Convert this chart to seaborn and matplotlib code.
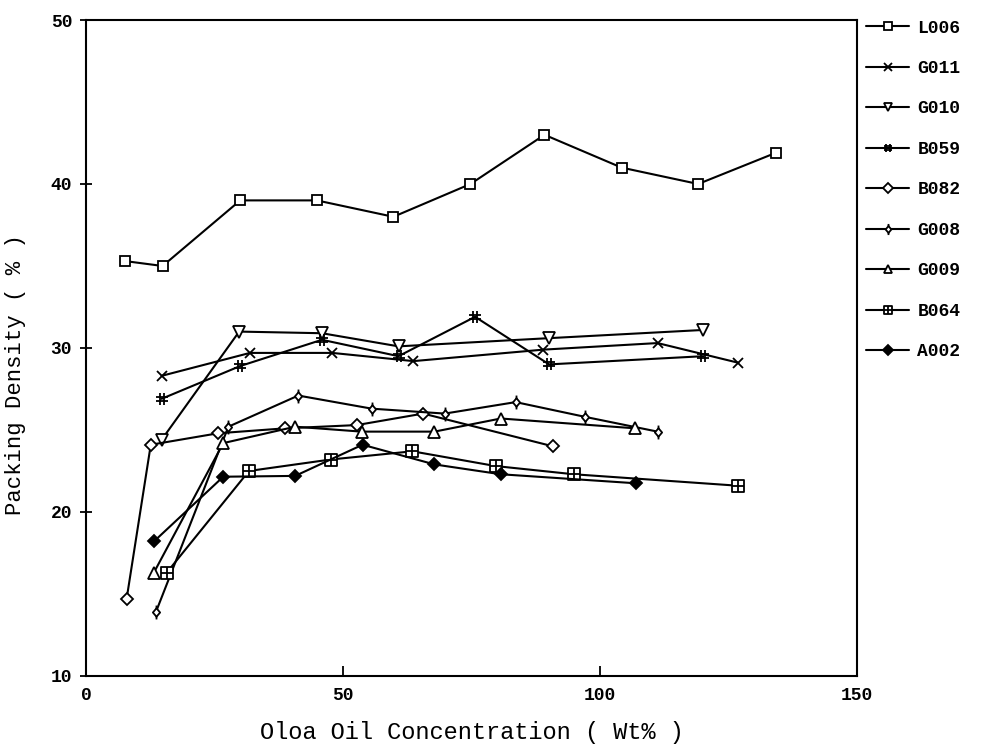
import numpy as np
import pandas as pd
import matplotlib
matplotlib.use("Agg")
import matplotlib.pyplot as plt
from matplotlib.path import Path
import seaborn as sns

# Oloa oil concentration (wt%) and packing density (%) for each sample
L006_x = [7.6, 14.9, 30.0, 44.9, 59.8, 74.8, 89.2, 104.2, 119.1, 134.2]
L006_y = [35.3, 35.0, 39.0, 39.0, 38.0, 40.0, 43.0, 41.0, 40.0, 41.9]

G011_x = [14.7, 31.9, 47.9, 63.7, 89.0, 111.2, 126.9]
G011_y = [28.3, 29.7, 29.7, 29.2, 29.9, 30.3, 29.1]

G010_x = [14.7, 29.8, 45.9, 60.8, 90.1, 120.1]
G010_y = [24.4, 31.0, 30.9, 30.1, 30.6, 31.1]

B059_x = [14.7, 30.0, 45.9, 60.8, 75.7, 90.1, 120.1]
B059_y = [26.9, 28.9, 30.5, 29.5, 31.9, 29.0, 29.5]

B082_x = [7.9, 12.6, 25.7, 38.7, 52.7, 65.6, 90.9]
B082_y = [14.7, 24.1, 24.8, 25.1, 25.3, 26.0, 24.0]

G008_x = [13.6, 27.7, 41.3, 55.6, 69.8, 83.6, 97.1, 111.2]
G008_y = [13.9, 25.2, 27.1, 26.3, 26.0, 26.7, 25.8, 24.9]

G009_x = [13.2, 26.7, 40.7, 53.6, 67.8, 80.7, 106.9]
G009_y = [16.3, 24.2, 25.2, 24.9, 24.9, 25.7, 25.1]

B064_x = [15.7, 31.7, 47.6, 63.5, 79.7, 94.9, 126.9]
B064_y = [16.3, 22.5, 23.2, 23.7, 22.8, 22.3, 21.6]

A002_x = [13.2, 26.7, 40.7, 53.8, 67.8, 80.7, 107.0]
A002_y = [18.2, 22.15, 22.2, 24.1, 22.9, 22.3, 21.75]

samples = ["L006", "G011", "G010", "B059", "B082", "G008", "G009", "B064", "A002"]
series = {
    "L006": (L006_x, L006_y), "G011": (G011_x, G011_y), "G010": (G010_x, G010_y),
    "B059": (B059_x, B059_y), "B082": (B082_x, B082_y), "G008": (G008_x, G008_y),
    "G009": (G009_x, G009_y), "B064": (B064_x, B064_y), "A002": (A002_x, A002_y),
}

x_ticks = [0, 50, 100, 150]
y_ticks = [10, 20, 30, 40, 50]

# custom plotting symbols
M, L = Path.MOVETO, Path.LINETO
hash_marker = Path([(-0.35, -1), (-0.35, 1), (0.35, -1), (0.35, 1),
                    (-1, -0.35), (1, -0.35), (-1, 0.35), (1, 0.35)],
                   [M, L, M, L, M, L, M, L])
stem_diamond = Path([(0, -0.7), (0.6, 0), (0, 0.7), (-0.6, 0), (0, -0.7),
                     (0, 0.7), (0, 1.15), (0, -0.7), (0, -1.15)],
                    [M, L, L, L, Path.CLOSEPOLY, M, L, M, L])
boxed_plus = Path([(-1, -1), (1, -1), (1, 1), (-1, 1), (-1, -1),
                   (-1, 0), (1, 0), (0, -1), (0, 1)],
                  [M, L, L, L, Path.CLOSEPOLY, M, L, M, L])

styles = {
    "L006": dict(marker="s", mfc="white", ms=7),
    "G011": dict(marker="x", mfc="black", ms=7),
    "G010": dict(marker="v", mfc="white", ms=8),
    "B059": dict(marker=hash_marker, mfc="black", ms=8),
    "B082": dict(marker="D", mfc="white", ms=6),
    "G008": dict(marker=stem_diamond, mfc="white", ms=10),
    "G009": dict(marker="^", mfc="white", ms=8),
    "B064": dict(marker=boxed_plus, mfc="white", ms=8),
    "A002": dict(marker="D", mfc="black", ms=6),
}

sns.set_style("ticks")
mono = ["Liberation Mono", "DejaVu Sans Mono"]
plt.rcParams["font.family"] = mono
plt.rcParams.update({"text.color": "black", "axes.labelcolor": "black",
                     "xtick.color": "black", "ytick.color": "black"})

fig = plt.figure(figsize=(9.83, 7.52), dpi=100)
ax = fig.add_axes([0.0875, 0.1011, 0.7843, 0.8723])

for name in samples:
    xs, ys = series[name]
    df = pd.DataFrame({"x": xs, "y": ys})
    st = styles[name]
    sns.lineplot(data=df, x="x", y="y", ax=ax, color="black", lw=1.5,
                 marker=st["marker"], markersize=st["ms"],
                 markerfacecolor=st["mfc"], markeredgecolor="black",
                 markeredgewidth=1.3, label=name)

ax.set_xlim(0, 150)
ax.set_ylim(10, 50)
ax.set_xticks(x_ticks)
ax.set_yticks(y_ticks)
ax.set_xticklabels([str(t) for t in x_ticks], fontsize=13, fontweight="bold")
ax.set_yticklabels([str(t) for t in y_ticks], fontsize=13, fontweight="bold")
ax.tick_params(axis="x", direction="in", length=7, width=1.3, pad=8)
ax.tick_params(axis="y", direction="inout", length=8, width=1.3, pad=6)
for sp in ax.spines.values():
    sp.set_linewidth(1.5)
    sp.set_color("black")

ax.set_xlabel("Oloa Oil Concentration ( Wt% )", fontsize=17, labelpad=12)
ax.set_ylabel("Packing Density ( % )", fontsize=16)
ax.yaxis.set_label_coords(-0.078, 0.46)

leg = ax.legend(loc="upper left", bbox_to_anchor=(0.881, 0.974),
                bbox_transform=fig.transFigure, frameon=False,
                prop={"family": mono, "size": 13, "weight": "bold"},
                handlelength=2.4, handletextpad=0.45, labelspacing=1.3,
                markerscale=0.8, borderpad=0, borderaxespad=0)

fig.savefig("out.png", dpi=100, facecolor="white")
